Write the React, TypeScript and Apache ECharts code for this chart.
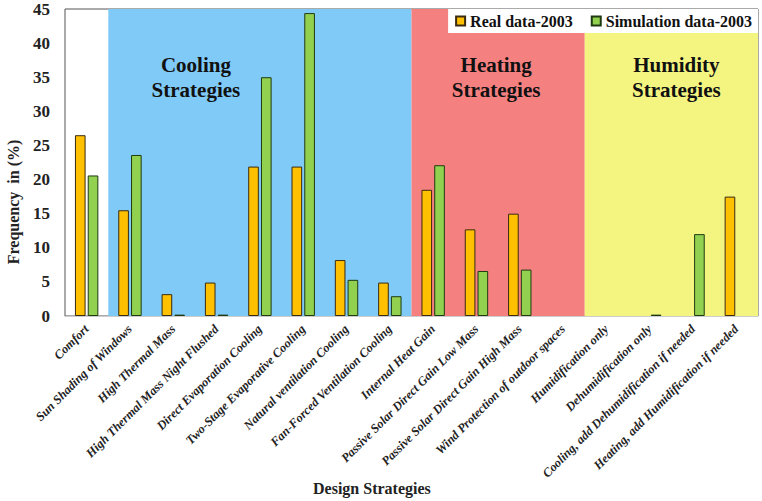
import React, { useEffect, useRef } from "react";
import * as echarts from "echarts";

const categories = [
  "Comfort",
  "Sun Shading of Windows",
  "High Thermal Mass",
  "High Thermal Mass Night Flushed",
  "Direct Evaporation Cooling",
  "Two-Stage Evaporative Cooling",
  "Natural ventilation Cooling",
  "Fan-Forced Ventilation Cooling",
  "Internal Heat Gain",
  "Passive Solar Direct Gain Low Mass",
  "Passive Solar Direct Gain High Mass",
  "Wind Protection of outdoor spaces",
  "Humidification only",
  "Dehumidification only",
  "Cooling, add Dehumidification if needed",
  "Heating, add Humidification if needed",
];

const realData = [26.5, 15.5, 3.2, 4.9, 21.9, 21.9, 8.2, 4.9, 18.5, 12.7, 15.0, null, null, null, null, 17.5];
const simData = [20.6, 23.6, 0.2, 0.2, 35.0, 44.4, 5.3, 2.9, 22.1, 6.6, 6.8, null, null, 0.2, 12.0, null];

const regionNames = ["Cooling\nStrategies", "Heating\nStrategies", "Humidity\nStrategies"];
const regionStart = [1, 8, 12];
const regionEnd = [8, 12, 16];
const regionColors = ["#7fcaf7", "#f58080", "#f4f580"];
const regionLabelOffset = [-64, -2, 5];

const yTicks = { min: 0, max: 45, interval: 5 };

const SERIF = "Liberation Serif";

export default function App() {
  const ref = useRef<HTMLDivElement>(null);
  useEffect(() => {
    const chart = echarts.init(ref.current!, null, { renderer: "svg" });
    const markData = regionNames.map((n, i) => [
      {
        xAxis: regionStart[i],
        itemStyle: { color: regionColors[i], opacity: 1 },
        label: {
          show: true,
          formatter: n,
          position: "insideTop",
          distance: 43,
          offset: [regionLabelOffset[i], 0],
          fontFamily: SERIF,
          fontWeight: "bold",
          fontSize: 21,
          lineHeight: 25,
          color: "#111",
        },
      },
      { xAxis: regionEnd[i] },
    ]);
    chart.setOption({
      animation: false,
      textStyle: { fontFamily: SERIF },
      grid: {
        left: 65,
        right: 4,
        top: 9,
        bottom: 185,
        show: true,
        borderColor: "#555",
        borderWidth: 1,
        backgroundColor: "#fff",
      },
      legend: {
        data: ["Real data-2003", "Simulation data-2003"],
        right: 4,
        top: 9,
        backgroundColor: "#fff",
        padding: [4, 6, 4, 7],
        itemWidth: 9,
        itemHeight: 9,
        itemGap: 18,
        icon: "rect",
        textStyle: { fontFamily: SERIF, fontWeight: "bold", fontSize: 16, color: "#111" },
        z: 10,
      },
      xAxis: [
        {
          type: "category",
          data: categories,
          axisLine: { show: true, lineStyle: { color: "#ccc" } },
          axisTick: { show: false },
          axisLabel: {
            interval: 0,
            rotate: 45,
            margin: 11,
            fontFamily: SERIF,
            fontStyle: "italic",
            fontWeight: "bold",
            fontSize: 12.5,
            color: "#222",
          },
        },
        { type: "value", min: 0, max: 16, show: false },
      ],
      yAxis: {
        type: "value",
        min: yTicks.min,
        max: yTicks.max,
        interval: yTicks.interval,
        splitLine: { show: false },
        axisLine: { show: false },
        axisTick: { show: false },
        axisLabel: { fontFamily: SERIF, fontWeight: "bold", fontSize: 17, color: "#222", margin: 15 },
      },
      graphic: [
        {
          type: "text",
          left: 313,
          top: 480,
          style: {
            text: "Design Strategies",
            fontFamily: SERIF,
            fontWeight: "bold",
            fontSize: 16,
            fill: "#222",
          },
        },
        {
          type: "text",
          x: 13,
          y: 202,
          rotation: Math.PI / 2,
          style: {
            text: "Frequency  in (%)",
            fontFamily: SERIF,
            fontWeight: "bold",
            fontSize: 16,
            fill: "#222",
            align: "center",
            verticalAlign: "middle",
          },
        },
      ],
      series: [
        {
          type: "line",
          xAxisIndex: 1,
          data: [[0, 0]],
          symbol: "none",
          lineStyle: { opacity: 0 },
          silent: true,
          z: 1,
          markArea: { silent: true, data: markData },
        },
        {
          name: "Real data-2003",
          type: "bar",
          data: realData,
          barGap: "20%",
          barCategoryGap: "46%",
          itemStyle: { color: "#ffc000", borderColor: "#3a2a10", borderWidth: 1 },
          z: 3,
        },
        {
          name: "Simulation data-2003",
          type: "bar",
          data: simData,
          barGap: "20%",
          barCategoryGap: "46%",
          itemStyle: { color: "#92d050", borderColor: "#1f3a10", borderWidth: 1 },
          z: 3,
        },
      ],
    });
    return () => chart.dispose();
  }, []);
  return (
    <div
      ref={ref}
      style={{ position: "fixed", left: 0, top: 0, width: 762, height: 501, background: "#fff" }}
    />
  );
}
